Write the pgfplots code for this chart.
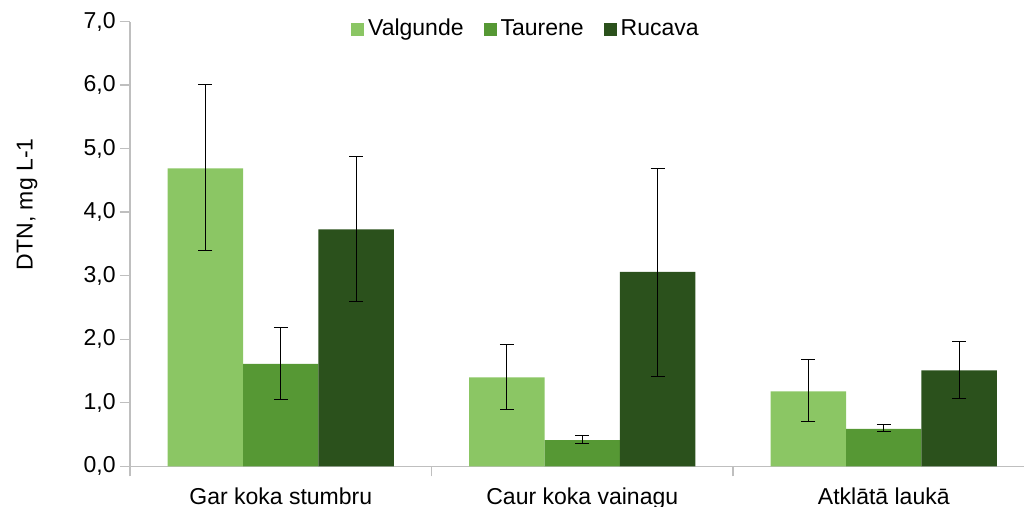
\documentclass[border=0pt]{standalone}
\usepackage{fontspec}
\setmainfont{Liberation Sans}
\usepackage{pgfplots}
\usepackage{pgfplotstable}
\pgfplotsset{compat=1.18}
\definecolor{cV}{HTML}{8BC664}
\definecolor{cT}{HTML}{569834}
\definecolor{cR}{HTML}{2B511C}
\definecolor{axgray}{HTML}{BFBFBF}

\pgfplotstableread{
x y ep em
0 4.69 1.32 1.30
1 1.40 0.51 0.50
2 1.18 0.50 0.47
}\valg
\pgfplotstableread{
x y ep em
0 1.61 0.57 0.56
1 0.41 0.07 0.05
2 0.59 0.06 0.05
}\taur
\pgfplotstableread{
x y ep em
0 3.73 1.14 1.13
1 3.06 1.63 1.64
2 1.51 0.46 0.44
}\ruca

\begin{document}
\begin{tikzpicture}
\path[use as bounding box] (0,0) rectangle (512pt,253.5pt);
\begin{axis}[
  at={(65pt,20.35pt)}, anchor=south west,
  width=447pt, height=222.4pt, scale only axis,
  xmin=-0.5, xmax=2.465, ymin=0, ymax=7,
  ybar, bar width=0.25,
  axis x line=bottom, axis y line=left,
  axis line style={-, draw=axgray, line width=0.7pt},
  tick style={draw=axgray, line width=0.7pt},
  tick align=outside, major tick length=5pt,
  ytick={0,1,2,3,4,5,6,7},
  yticklabel style={/pgf/number format/fixed, /pgf/number format/fixed zerofill, /pgf/number format/precision=1, /pgf/number format/use comma, /pgf/number format/assume math mode=true,
     font=\fontsize{11.5}{13}\selectfont, inner sep=1pt, xshift=-1pt},
  xtick={-0.5,0.5,1.5}, xticklabels={{},{},{}},
  extra x ticks={0,1,2},
  extra x tick labels={Gar koka stumbru, Caur koka vainagu, Atklātā laukā},
  extra x tick style={major tick length=0pt, tick style={draw=none},
     xticklabel style={font=\fontsize{11.5}{13}\selectfont, yshift=-7pt}},
  ylabel={DTN, mg L-1},
  ylabel style={at={(axis description cs:-0.115,0.589)}, anchor=center, font=\fontsize{11.5}{13}\selectfont},
  legend style={at={(0.444,0.983)}, anchor=center, legend columns=3, draw=none, fill=none,
     font=\fontsize{11.5}{13}\selectfont,
     /tikz/every even column/.append style={column sep=8pt}},
  legend image code/.code={\fill[#1, draw=none] (0pt,-3.25pt) rectangle (6.5pt,3.25pt);},
  error bars/y dir=both, error bars/y explicit,
  error bars/error bar style={black, line width=0.5pt},
  error bars/error mark options={rotate=90, black, mark size=3.5pt, line width=0.5pt},
]
\addplot[fill=cV, draw=none, bar shift=-0.25] table[x=x, y=y, y error plus=ep, y error minus=em]{\valg};
\addlegendentry{Valgunde}
\addplot[fill=cT, draw=none, bar shift=0] table[x=x, y=y, y error plus=ep, y error minus=em]{\taur};
\addlegendentry{Taurene}
\addplot[fill=cR, draw=none, bar shift=0.25] table[x=x, y=y, y error plus=ep, y error minus=em]{\ruca};
\addlegendentry{Rucava}
\end{axis}
\end{tikzpicture}
\end{document}
